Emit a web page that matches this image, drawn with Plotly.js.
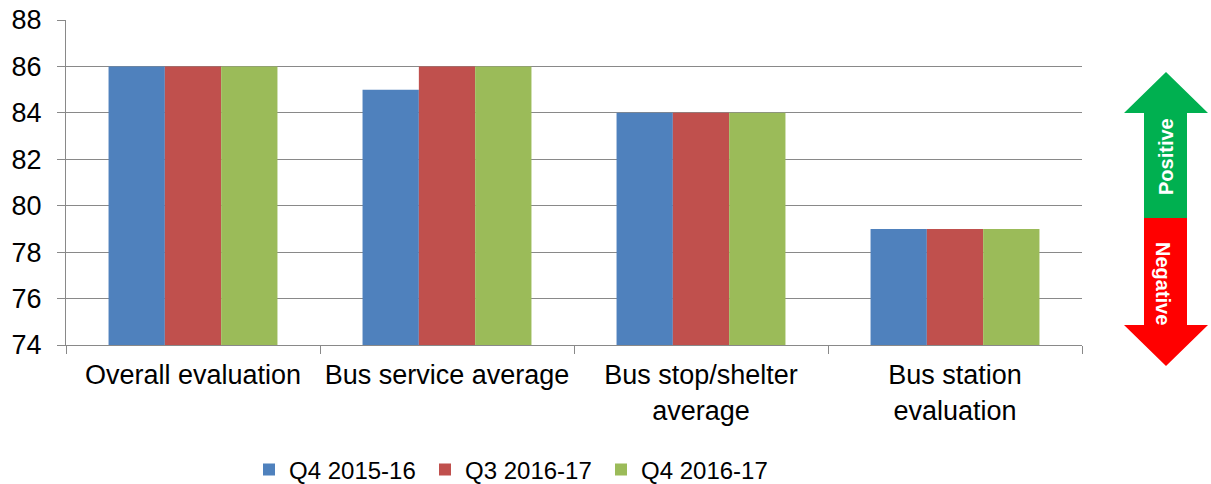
<!DOCTYPE html>
<html>
<head>
<meta charset="utf-8">
<script src="https://cdn.plot.ly/plotly-3.0.1.min.js"></script>
<style>html,body{margin:0;padding:0;background:#fff;}#chart{width:1211px;height:484px;}</style>
</head>
<body>
<div id="chart"></div>
<script>
var categories = ["Overall evaluation", "Bus service average", "Bus stop/shelter<br>average", "Bus station<br>evaluation"];
var seriesNames = ["Q4 2015-16", "Q3 2016-17", "Q4 2016-17"];
var q4_2015_16 = [86, 85, 84, 79];
var q3_2016_17 = [86, 86, 84, 79];
var q4_2016_17 = [86, 86, 84, 79];
var seriesColors = ["#4F81BD", "#C0504D", "#9BBB59"];
var yTicks = [74, 76, 78, 80, 82, 84, 86, 88];
var arrowLabels = ["Positive", "Negative"];

var W = 1211, H = 484;
var mL = 66, mR = 129, mT = 20, mB = 139;
var pw = W - mL - mR, ph = H - mT - mB;
function px(x) { return (x - mL) / pw; }
function py(y) { return (H - mB - y) / ph; }
function pathOf(pts) {
  return pts.map(function (p, i) { return (i ? "L" : "M") + px(p[0]).toFixed(5) + "," + py(p[1]).toFixed(5); }).join(" ") + " Z";
}

var allSeries = [q4_2015_16, q3_2016_17, q4_2016_17];
var traces = allSeries.map(function (vals, i) {
  return {
    type: "bar",
    name: seriesNames[i],
    x: categories,
    y: vals,
    base: 0,
    marker: { color: seriesColors[i], line: { width: 0 } },
    hoverinfo: "x+y+name"
  };
});

var greenArrow = [[1166, 72], [1208, 113], [1187, 113], [1187, 218], [1144, 218], [1144, 113], [1124, 113]];
var redArrow = [[1144, 218], [1187, 218], [1187, 325], [1208, 325], [1166, 366], [1124, 325], [1144, 325]];

var layout = {
  width: W, height: H,
  margin: { l: mL, r: mR, t: mT, b: mB, pad: 0, autoexpand: false },
  paper_bgcolor: "#ffffff",
  plot_bgcolor: "#ffffff",
  font: { family: "Liberation Sans, Arial, sans-serif", color: "#000000", size: 24 },
  barmode: "group",
  bargap: 0.335,
  bargroupgap: 0,
  showlegend: true,
  legend: {
    orientation: "h",
    x: px(249), xanchor: "left",
    y: py(470), yanchor: "middle",
    entrywidth: 131,
    font: { size: 24, family: "Liberation Sans, Arial, sans-serif" },
    bgcolor: "rgba(0,0,0,0)"
  },
  xaxis: {
    type: "category",
    showgrid: false,
    showline: true,
    linecolor: "#898989",
    linewidth: 1,
    ticks: "outside",
    tickson: "boundaries",
    ticklen: 8,
    tickcolor: "#898989",
    tickfont: { size: 27, family: "Liberation Sans, Arial, sans-serif", color: "#000" },
    ticklabelstandoff: 6,
    fixedrange: true
  },
  yaxis: {
    range: [74, 88],
    tickvals: yTicks,
    ticktext: yTicks.map(String),
    showgrid: true,
    gridcolor: "#898989",
    gridwidth: 1,
    zeroline: false,
    showline: true,
    linecolor: "#898989",
    linewidth: 1,
    ticks: "outside",
    ticklen: 8,
    tickcolor: "#898989",
    tickfont: { size: 27, family: "Liberation Sans, Arial, sans-serif", color: "#000" },
    ticklabelstandoff: 10,
    fixedrange: true
  },
  shapes: [
    { type: "path", xref: "paper", yref: "paper", path: pathOf(greenArrow), fillcolor: "#00B050", line: { width: 0 }, layer: "above" },
    { type: "path", xref: "paper", yref: "paper", path: pathOf(redArrow), fillcolor: "#FF0000", line: { width: 0 }, layer: "above" }
  ],
  annotations: [
    { xref: "paper", yref: "paper", x: px(1166), y: py(157), text: "<b>" + arrowLabels[0] + "</b>", textangle: -90, showarrow: false,
      font: { size: 20, color: "#ffffff", family: "Liberation Sans, Arial, sans-serif" }, xanchor: "center", yanchor: "middle" },
    { xref: "paper", yref: "paper", x: px(1163), y: py(283), text: "<b>" + arrowLabels[1] + "</b>", textangle: 90, showarrow: false,
      font: { size: 20, color: "#ffffff", family: "Liberation Sans, Arial, sans-serif" }, xanchor: "center", yanchor: "middle" }
  ]
};

Plotly.newPlot("chart", traces, layout, { displayModeBar: false, staticPlot: true });
</script>
</body>
</html>
